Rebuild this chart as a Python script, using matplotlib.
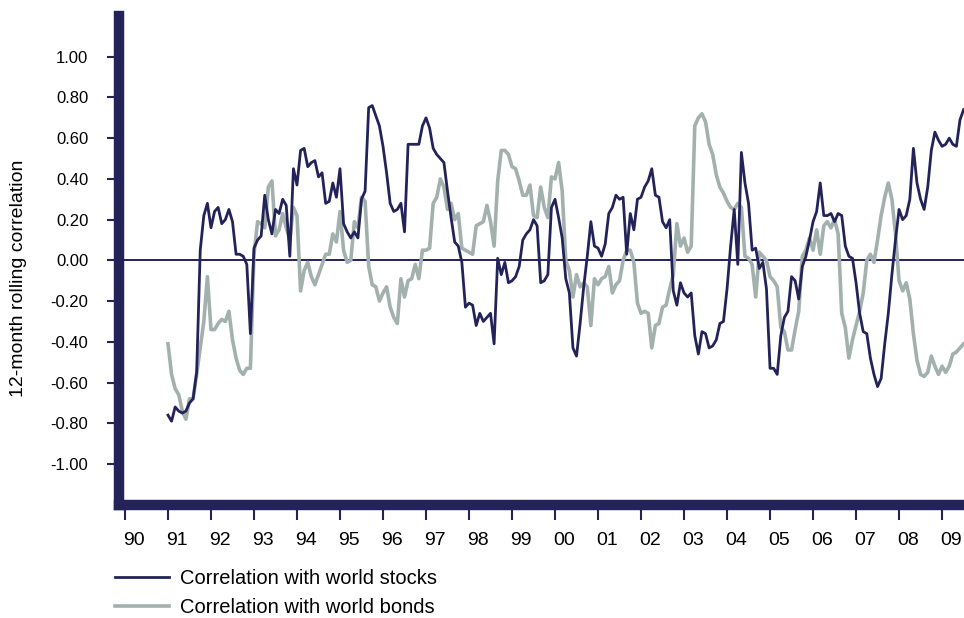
import numpy as np
import matplotlib.pyplot as plt
from matplotlib.transforms import ScaledTranslation

plt.rcParams['font.family'] = ['Liberation Sans', 'DejaVu Sans']

# monthly 12-month rolling correlations, Jan 1991 onwards
start_year = 1991
stocks = [
    -0.76, -0.79, -0.72, -0.74, -0.75, -0.74, -0.70, -0.68, -0.55, 0.05, 0.22, 0.28,
    0.16, 0.24, 0.26, 0.18, 0.20, 0.25, 0.19, 0.03, 0.03, 0.02, -0.02, -0.36,
    0.06, 0.10, 0.12, 0.32, 0.20, 0.13, 0.25, 0.23, 0.30, 0.27, 0.02, 0.45,
    0.37, 0.54, 0.55, 0.46, 0.48, 0.49, 0.41, 0.43, 0.28, 0.29, 0.38, 0.31,
    0.45, 0.18, 0.14, 0.11, 0.14, 0.11, 0.30, 0.34, 0.75, 0.76, 0.71, 0.66,
    0.56, 0.43, 0.28, 0.24, 0.25, 0.28, 0.14, 0.57, 0.57, 0.57, 0.57, 0.66,
    0.70, 0.65, 0.55, 0.52, 0.50, 0.48, 0.34, 0.21, 0.09, 0.07, -0.01, -0.23,
    -0.21, -0.22, -0.32, -0.26, -0.30, -0.28, -0.26, -0.41, 0.01, -0.07, -0.01, -0.11,
    -0.10, -0.08, -0.03, 0.10, 0.13, 0.15, 0.20, 0.17, -0.11, -0.10, -0.07, 0.26,
    0.30, 0.21, 0.11, -0.09, -0.16, -0.43, -0.47, -0.31, -0.13, 0.02, 0.19, 0.07,
    0.06, 0.02, 0.08, 0.23, 0.26, 0.32, 0.30, 0.31, 0.03, 0.23, 0.15, 0.30,
    0.31, 0.36, 0.39, 0.45, 0.32, 0.31, 0.19, 0.16, 0.20, -0.15, -0.22, -0.11,
    -0.16, -0.18, -0.16, -0.37, -0.46, -0.35, -0.36, -0.43, -0.42, -0.39, -0.31, -0.30,
    -0.14, 0.07, 0.25, -0.02, 0.53, 0.38, 0.28, 0.05, 0.06, -0.04, -0.01, -0.14,
    -0.53, -0.53, -0.56, -0.37, -0.28, -0.25, -0.08, -0.10, -0.19, -0.03, 0.02, 0.10,
    0.19, 0.24, 0.38, 0.22, 0.22, 0.23, 0.19, 0.23, 0.22, 0.07, 0.02, 0.01,
    -0.11, -0.26, -0.35, -0.36, -0.48, -0.56, -0.62, -0.58, -0.41, -0.26, -0.07, 0.10,
    0.25, 0.20, 0.22, 0.30, 0.55, 0.38, 0.30, 0.25, 0.36, 0.54, 0.63, 0.59,
    0.56, 0.57, 0.60, 0.57, 0.56, 0.69, 0.74,
]
bonds = [
    -0.41, -0.56, -0.63, -0.66, -0.74, -0.78, -0.68, -0.68, -0.56, -0.43, -0.30, -0.08,
    -0.34, -0.34, -0.31, -0.29, -0.30, -0.25, -0.39, -0.48, -0.54, -0.56, -0.53, -0.53,
    0.03, 0.19, 0.18, 0.16, 0.36, 0.39, 0.12, 0.15, 0.23, 0.16, 0.10, 0.26,
    0.22, -0.15, -0.05, -0.01, -0.08, -0.12, -0.07, -0.02, 0.03, 0.03, 0.13, 0.09,
    0.24, 0.05, -0.01, 0.00, 0.19, 0.16, 0.31, 0.29, -0.03, -0.12, -0.13, -0.20,
    -0.16, -0.13, -0.23, -0.28, -0.31, -0.09, -0.18, -0.10, -0.09, -0.02, -0.09, 0.05,
    0.05, 0.06, 0.28, 0.31, 0.40, 0.36, 0.25, 0.28, 0.20, 0.23, 0.06, 0.05,
    0.04, 0.03, 0.17, 0.18, 0.19, 0.27, 0.19, 0.07, 0.39, 0.54, 0.54, 0.52,
    0.46, 0.45, 0.39, 0.32, 0.32, 0.37, 0.22, 0.21, 0.36, 0.26, 0.21, 0.41,
    0.40, 0.48, 0.34, 0.00, -0.05, -0.18, -0.07, -0.13, -0.11, -0.13, -0.32, -0.09,
    -0.12, -0.09, -0.08, -0.03, -0.16, -0.12, -0.10, 0.00, 0.05, 0.05, -0.01, -0.21,
    -0.26, -0.25, -0.26, -0.43, -0.32, -0.31, -0.23, -0.22, -0.14, -0.07, 0.18, 0.07,
    0.11, 0.04, 0.07, 0.66, 0.70, 0.72, 0.68, 0.57, 0.52, 0.42, 0.36, 0.33,
    0.29, 0.26, 0.25, 0.28, 0.26, 0.02, 0.01, -0.02, -0.18, 0.04, 0.02, 0.00,
    -0.08, -0.10, -0.13, -0.33, -0.35, -0.44, -0.44, -0.34, -0.25, 0.02, 0.05, 0.11,
    0.05, 0.15, 0.03, 0.17, 0.19, 0.16, 0.20, 0.13, -0.26, -0.33, -0.48, -0.39,
    -0.32, -0.25, -0.16, 0.00, 0.03, -0.01, 0.10, 0.22, 0.31, 0.38, 0.30, 0.13,
    -0.10, -0.15, -0.11, -0.19, -0.36, -0.49, -0.56, -0.57, -0.55, -0.47, -0.52, -0.56,
    -0.52, -0.55, -0.52, -0.46, -0.45, -0.43, -0.41,
]
years = list(range(1990, 2010))
year_labels = ['%02d' % (y % 100) for y in years]
yticks = [-1.0, -0.8, -0.6, -0.4, -0.2, 0.0, 0.2, 0.4, 0.6, 0.8, 1.0]

navy = '#23235a'
grey = '#a3b1ae'

x = start_year + np.arange(len(stocks)) / 12.0

fig = plt.figure(figsize=(9.64, 6.18), dpi=100)
ax = fig.add_axes([0.1234, 0.1833, 0.8766, 0.7908])

ax.axhline(0, color=navy, lw=1.4, zorder=1)
l1, = ax.plot(x, stocks, color=navy, lw=2.0, zorder=3,
              label='Correlation with world stocks')
l2, = ax.plot(x, bonds, color=grey, lw=2.6, zorder=2,
              label='Correlation with world bonds')

ax.set_xlim(1989.86, 2009.51)
ax.set_ylim(-1.2, 1.2)

for side in ('top', 'right'):
    ax.spines[side].set_visible(False)
for side in ('left', 'bottom'):
    ax.spines[side].set_color(navy)
    ax.spines[side].set_linewidth(7.5)
    ax.spines[side].set_capstyle('projecting')

ax.set_yticks(yticks)
ax.set_yticklabels(['%.2f' % v if v != 0 else '0.00' for v in yticks])
ax.set_xticks(years)
ax.set_xticklabels(year_labels)
ax.tick_params(axis='y', length=9, width=1.5, color=navy, pad=13, labelsize=12)
ax.tick_params(axis='x', length=11, width=1.5, color=navy, pad=9, labelsize=14)

# shift year labels a little to the right of their ticks
shift = ScaledTranslation(6.5 / 72, 0, fig.dpi_scale_trans)
for lab in ax.get_xticklabels():
    lab.set_transform(lab.get_transform() + shift)

fig.text(0.019, 0.55, '12-month rolling correlation', rotation=90,
         ha='center', va='center', fontsize=14)

fig.legend(handles=[l1, l2], loc='upper left', bbox_to_anchor=(0.119, 0.079),
           frameon=False, fontsize=14.5, handlelength=2.7, handletextpad=0.55,
           labelspacing=0.5, borderaxespad=0, borderpad=0)

fig.savefig('out.png', dpi=100)
